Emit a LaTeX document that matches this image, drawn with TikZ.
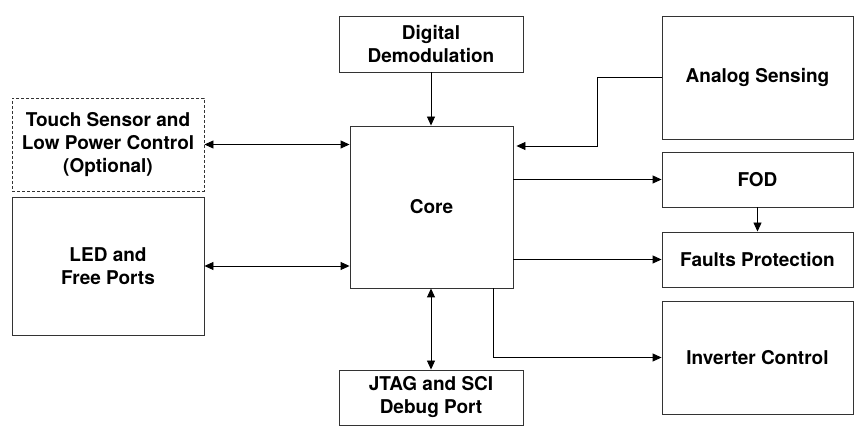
\documentclass[tikz,border=0pt]{standalone}
\usepackage{fontspec}
\setmainfont{TeX Gyre Heros}
\usetikzlibrary{arrows.meta,calc}
\begin{document}
\begin{tikzpicture}[x=1pt,y=-1pt,
  blk/.style={draw=black!80,line width=0.9pt,rectangle,inner sep=0pt,align=center,
    font=\fontsize{19}{23}\selectfont\bfseries},
  conn/.style={line width=0.9pt,-{Triangle[length=9pt,width=8pt]}},
  bconn/.style={line width=0.9pt,{Triangle[length=9pt,width=8pt]}-{Triangle[length=9pt,width=8pt]}}]
\useasboundingbox (0,0) rectangle (857,435);
\node[blk,dashed,dash pattern=on 3pt off 2pt,minimum width=192pt,minimum height=93pt] (touch) at (108,144.5) {Touch Sensor and\\Low Power Control\\(Optional)};
\node[blk,minimum width=192pt,minimum height=138pt] (led) at (108,266) {LED and\\Free Ports};
\node[blk,minimum width=184pt,minimum height=56pt] (dig) at (431,44) {Digital\\Demodulation};
\node[blk,minimum width=163pt,minimum height=162pt] (core) at (431.5,207) {Core};
\node[blk,minimum width=191pt,minimum height=123pt] (analog) at (757.5,77.5) {Analog Sensing};
\node[blk,minimum width=191pt,minimum height=55pt] (fod) at (757.5,179.5) {FOD};
\node[blk,minimum width=191pt,minimum height=55pt] (faults) at (757.5,259.5) {Faults Protection};
\node[blk,minimum width=191pt,minimum height=113pt] (inv) at (757.5,357.5) {Inverter Control};
\node[blk,minimum width=184pt,minimum height=55pt] (jtag) at (431,397.5) {JTAG and SCI\\Debug Port};
\coordinate (abend) at (597,146);
\coordinate (invstart) at (493,0);
\draw[bconn] (touch.east) -- (touch.east -| core.west);
\draw[bconn] (led.east) -- (led.east -| core.west);
\draw[conn] (dig.south) -- (dig.south |- core.north);
\draw[conn,shorten >=3pt] (analog.west) -| (abend) -- (abend -| core.east);
\draw[conn] (fod.west -| core.east) -- (fod.west);
\draw[conn] (fod.south) -- (fod.south |- faults.north);
\draw[conn] (faults.west -| core.east) -- (faults.west);
\draw[conn] (invstart |- core.south) |- (inv.west);
\draw[bconn] (jtag.north) -- (jtag.north |- core.south);
\end{tikzpicture}
\end{document}
